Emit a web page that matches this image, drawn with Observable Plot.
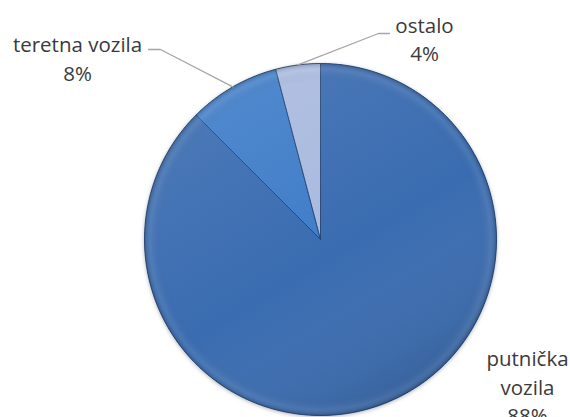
<!DOCTYPE html>
<html>
<head>
<meta charset="utf-8">
<script src="https://cdn.jsdelivr.net/npm/d3@7"></script>
<script src="https://cdn.jsdelivr.net/npm/@observablehq/plot@0.6"></script>
<style>
  html, body { margin: 0; padding: 0; background: #ffffff; }
  #chart { width: 570px; height: 417px; overflow: hidden; }
</style>
</head>
<body>
<div id="chart"></div>
<script>
// ---- data ----
const categories = ["putnička vozila", "teretna vozila", "ostalo"];
const shares = [87.5, 8.4, 4.1];
const sliceColors = ["#3a6cb1", "#3f7dc8", "#a9badf"];

// ---- layout (pie units: centre 0,0, radius 1) ----
const W = 570, H = 417;
const cx = 320, cy = 239, R = 176;
const px = v => (v - cx) / R;
const py = v => (cy - v) / R;
const labelLayout = {
  "putnička vozila": {x: 527, y: 385, elbow: null},
  "teretna vozila": {x: 77, y: 57, elbow: [[160, 49], [148, 49]]},
  "ostalo": {x: 424, y: 37.5, elbow: [[378, 33], [389, 33]]}
};

// ---- slice geometry from the data ----
const arcs = d3.pie().sort(null).startAngle(0).endAngle(2 * Math.PI)(shares);
const slicePts = [];
arcs.forEach((a, i) => {
  const n = Math.max(4, Math.ceil((a.endAngle - a.startAngle) / 0.01));
  slicePts.push({cat: categories[i], x: 0, y: 0});
  for (let k = 0; k <= n; k++) {
    const t = a.startAngle + (a.endAngle - a.startAngle) * k / n;
    slicePts.push({cat: categories[i], x: Math.sin(t), y: Math.cos(t)});
  }
  slicePts.push({cat: categories[i], x: 0, y: 0});
});
const discPts = d3.range(0, 361).map(k => ({x: Math.sin(k * Math.PI / 180), y: Math.cos(k * Math.PI / 180)}));

const leaders = [];
arcs.forEach((a, i) => {
  const lay = labelLayout[categories[i]];
  if (!lay.elbow) return;
  const mid = (a.startAngle + a.endAngle) / 2;
  leaders.push({cat: categories[i], x: Math.sin(mid), y: Math.cos(mid)});
  lay.elbow.forEach(([ex, ey]) => leaders.push({cat: categories[i], x: px(ex), y: py(ey)}));
});

const labels = categories.map((c, i) => {
  const lay = labelLayout[c];
  const name = c === "putnička vozila" ? "putnička\nvozila" : c;
  return {cat: c, x: px(lay.x), y: py(lay.y), text: name + "\n" + Math.round(shares[i]) + "%"};
});

function defs() {
  const ns = "http://www.w3.org/2000/svg";
  const g = document.createElementNS(ns, "g");
  g.innerHTML = `
    <defs>
      <radialGradient id="rim" cx="0.5" cy="0.5" r="0.5">
        <stop offset="0" stop-color="#000" stop-opacity="0"/>
        <stop offset="0.9" stop-color="#000" stop-opacity="0"/>
        <stop offset="0.965" stop-color="#fff" stop-opacity="0.07"/>
        <stop offset="1" stop-color="#000" stop-opacity="0.18"/>
      </radialGradient>
      <linearGradient id="vert" x1="0.2" y1="0" x2="0.8" y2="1">
        <stop offset="0" stop-color="#fff" stop-opacity="0.10"/>
        <stop offset="0.55" stop-color="#fff" stop-opacity="0"/>
        <stop offset="1" stop-color="#000" stop-opacity="0.16"/>
      </linearGradient>
      <filter id="shadow" x="-10%" y="-10%" width="120%" height="120%">
        <feDropShadow dx="0" dy="1" stdDeviation="2" flood-color="#000" flood-opacity="0.35"/>
      </filter>
    </defs>`;
  return g;
}

const chart = Plot.plot({
  width: W,
  height: H,
  margin: 0,
  x: {domain: [-1, 1], range: [cx - R, cx + R], axis: null},
  y: {domain: [-1, 1], range: [cy + R, cy - R], axis: null},
  color: {domain: categories, range: sliceColors},
  style: {fontFamily: "'Open Sans', sans-serif", background: "#ffffff"},
  marks: [
    defs,
    Plot.line(discPts, {x: "x", y: "y", fill: "#3a6cb1", stroke: "none", curve: "linear"}),
    Plot.line(slicePts, {x: "x", y: "y", z: "cat", fill: "cat", stroke: "#22436f", strokeWidth: 1, strokeOpacity: 0.9, strokeLinejoin: "round", curve: "linear"}),
    Plot.line(discPts, {x: "x", y: "y", fill: "url(#vert)", stroke: "none", curve: "linear"}),
    Plot.line(discPts, {x: "x", y: "y", fill: "url(#rim)", stroke: "none", curve: "linear"}),
    Plot.line(leaders, {x: "x", y: "y", z: "cat", stroke: "#a6a6a6", strokeWidth: 1.3, curve: "linear"}),
    Plot.text(labels, {x: "x", y: "y", text: "text", fill: "#3a3a3a", fontSize: 20.5, lineHeight: 1.37, textAnchor: "middle", lineAnchor: "middle"})
  ]
});

// soft shadow under the pie base
const firstLine = chart.querySelector("g[aria-label='line']");
if (firstLine) firstLine.setAttribute("filter", "url(#shadow)");

document.getElementById("chart").appendChild(chart);
</script>
</body>
</html>
